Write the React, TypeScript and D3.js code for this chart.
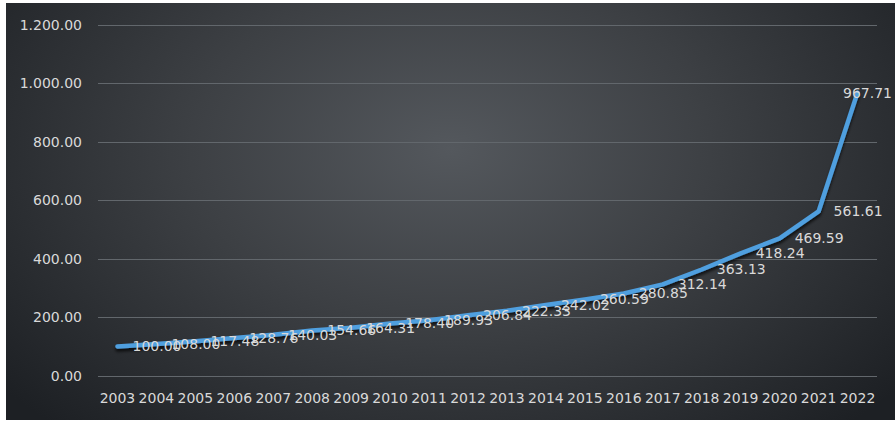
import React, { useEffect, useRef } from "react";
import * as d3 from "d3";

const years = ["2003","2004","2005","2006","2007","2008","2009","2010","2011","2012","2013","2014","2015","2016","2017","2018","2019","2020","2021","2022"];
const values = [100.0,108.0,117.48,128.76,140.03,154.66,164.31,178.4,189.93,206.84,222.33,242.02,260.59,280.85,312.14,363.13,418.24,469.59,561.61,967.71];
const yTicks = [0,200,400,600,800,1000,1200];

const W = 895, H = 422;
const fmt = (v: number) => {
  const s = v.toFixed(2);
  const [i, d] = s.split(".");
  return i.replace(/\B(?=(\d{3})+(?!\d))/g, ".") + "." + d;
};

export default function App() {
  const ref = useRef<SVGSVGElement>(null);
  useEffect(() => {
    const svg = d3.select(ref.current);
    svg.selectAll("*").remove();
    const defs = svg.append("defs");
    const grad = defs.append("radialGradient").attr("id", "bg").attr("cx", "50%").attr("cy", "35%").attr("r", "65%")
      .attr("gradientTransform", "translate(0.5,0.35) scale(1,1.4) translate(-0.5,-0.35)");
    grad.append("stop").attr("offset", "0%").attr("stop-color", "#54585d");
    grad.append("stop").attr("offset", "45%").attr("stop-color", "#3d4044");
    grad.append("stop").attr("offset", "100%").attr("stop-color", "#1d2024");
    const sh = defs.append("filter").attr("id", "sh").attr("x", "-10%").attr("y", "-10%").attr("width", "120%").attr("height", "130%");
    sh.append("feDropShadow").attr("dx", 0).attr("dy", 3).attr("stdDeviation", 1.5).attr("flood-color", "#000").attr("flood-opacity", 0.7);

    svg.append("rect").attr("x", 0).attr("y", 0).attr("width", W).attr("height", H).attr("fill", "#fff");
    svg.append("rect").attr("x", 6).attr("y", 3).attr("width", W - 6).attr("height", 417).attr("fill", "url(#bg)");

    const x = d3.scaleBand().domain(years).range([98, 877]);
    const y = d3.scaleLinear().domain([0, 1200]).range([375.7, 24.7]);
    const font = "'DejaVu Sans', sans-serif";

    const g = svg.append("g");
    g.selectAll("line.grid").data(yTicks).join("line")
      .attr("x1", 98).attr("x2", 877)
      .attr("y1", d => Math.round(y(d)) + 0.5).attr("y2", d => Math.round(y(d)) + 0.5)
      .attr("stroke", "#62676c").attr("stroke-width", 1);

    g.selectAll("text.yl").data(yTicks).join("text")
      .attr("x", 82).attr("y", d => y(d)).attr("dy", "0.35em")
      .attr("text-anchor", "end").attr("fill", "#d9d9d9")
      .attr("font-family", font).attr("font-size", 14)
      .text(d => fmt(d));

    g.selectAll("text.xl").data(years).join("text")
      .attr("x", d => x(d)! + x.bandwidth() / 2).attr("y", 398).attr("dy", "0.35em")
      .attr("text-anchor", "middle").attr("fill", "#d9d9d9")
      .attr("font-family", font).attr("font-size", 14)
      .text(d => d);

    const line = d3.line<number>()
      .x((_, i) => x(years[i])! + x.bandwidth() / 2)
      .y(d => y(d));
    g.append("path").datum(values).attr("d", line)
      .attr("fill", "none").attr("stroke", "#4f9fdf").attr("stroke-width", 4.5)
      .attr("stroke-linejoin", "round").attr("stroke-linecap", "round")
      .attr("filter", "url(#sh)");

    g.selectAll("text.dl").data(values).join("text")
      .attr("x", (d, i) => Math.min(x(years[i])! + x.bandwidth() / 2 + 15, 843))
      .attr("y", d => y(d)).attr("dy", "0.35em")
      .attr("text-anchor", "start").attr("fill", "#d9d9d9")
      .attr("font-family", font).attr("font-size", 14)
      .text(d => fmt(d));
  }, []);
  return (
    <svg ref={ref} width={W} height={H} style={{ position: "absolute", left: 0, top: 0 }} />
  );
}
